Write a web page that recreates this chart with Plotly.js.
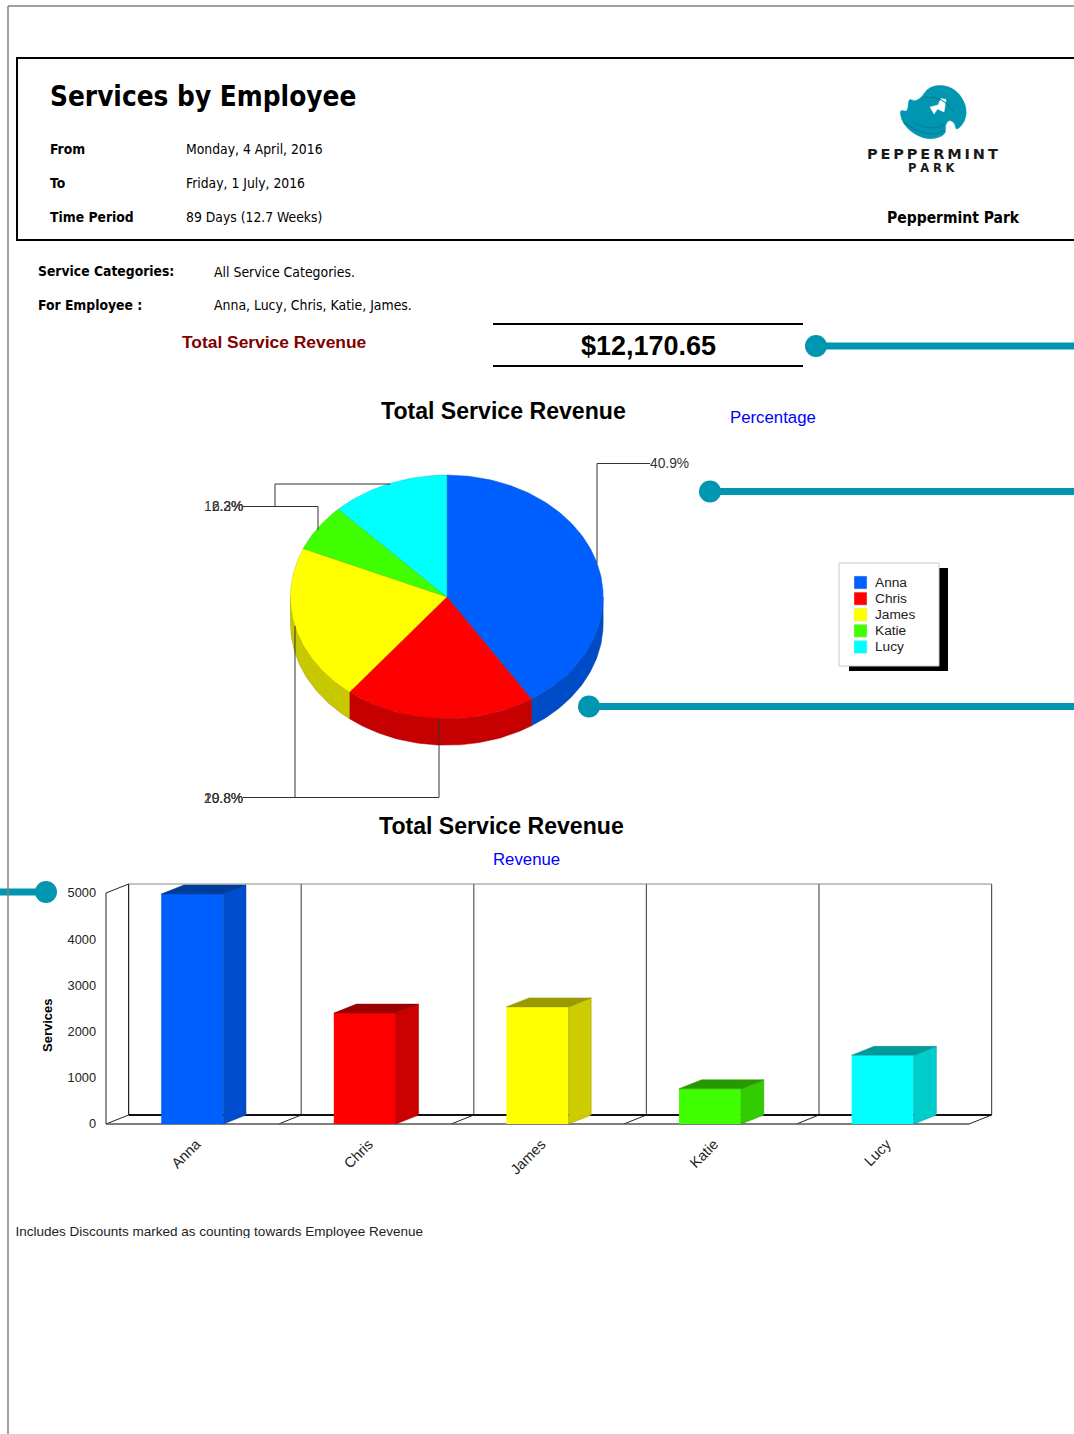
<!DOCTYPE html>
<html><head><meta charset="utf-8">
<script src="https://cdn.plot.ly/plotly-3.0.1.min.js"></script>
<style>html,body{margin:0;padding:0;background:#fff;overflow:hidden}#c{width:1074px;height:1434px}</style>
</head><body><div id="c"></div>
<script>
// ---- data ----
const employees = ['Anna','Chris','James','Katie','Lucy'];
const revenue   = [4978, 2400, 2535, 762, 1487];
const sharePct  = [40.9, 19.8, 20.8, 6.3, 12.2];
const yTicks    = [0,1000,2000,3000,4000,5000];
const faceColors = ['#0060ff','#ff0000','#ffff00','#40ff00','#00ffff'];
const sideColors = ['#004ccc','#cc0000','#cccc00','#33cc00','#00cccc'];
const topColors  = ['#003c99','#990000','#999900','#269900','#009999'];
const pieSideColors = ['#004cc8','#c60000','#c8c800','#33cc00','#00cccc'];
const headerRows = [['From','Monday, 4 April, 2016'],['To','Friday, 1 July, 2016'],['Time Period','89 Days (12.7 Weeks)']];
const filterRows = [['Service Categories:','All Service Categories.'],['For Employee :','Anna, Lucy, Chris, Katie, James.']];

const W=1074,H=1434, TEAL='#0095b0';
const domX=(a,b)=>[a/W,b/W], domY=(t,b)=>[1-b/H,1-t/H];
const SANS='"Liberation Sans", Arial, sans-serif', TAH='"DejaVu Sans Condensed","Noto Sans",sans-serif';
const traces=[], shapes=[], annotations=[];

// ---- text helper in page pixels ----
function txt(t,x,y,size,opt={}){const a=opt.anchor||'left';
  annotations.push({text:t,x:a==='left'?x-1.5:a==='right'?x+1.5:x,y:y,xref:'x',yref:'y',showarrow:false,
  xanchor:a,yanchor:'middle',borderpad:0,
  font:{family:opt.family||SANS,size:size,color:opt.color||'#000',weight:opt.bold?700:400}});}
function line(x0,y0,x1,y1,color,w,layer){shapes.push({type:'line',xref:'x',yref:'y',x0,y0,x1,y1,layer:layer||'below',line:{color,width:w}});}
function path(d,color,fill,w,layer){shapes.push({type:'path',xref:'x',yref:'y',path:d,layer:layer||'above',fillcolor:fill||'rgba(0,0,0,0)',line:{color:color,width:w}});}
function smooth(p){const m=(a,b)=>[(a[0]+b[0])/2,(a[1]+b[1])/2];let s=m(p[p.length-1],p[0]),d=`M ${s[0]} ${s[1]}`;
  p.forEach((q,i)=>{const e=m(q,p[(i+1)%p.length]);d+=` Q ${q[0]} ${q[1]} ${e[0]} ${e[1]}`;});return d+' Z';}

// page frame and header
shapes.push({type:'line',xref:'paper',yref:'paper',x0:8/W,x1:8/W,y0:0,y1:1-6/H,line:{color:'#808080',width:1.5}});
shapes.push({type:'line',xref:'paper',yref:'paper',x0:8/W,x1:1,y0:1-6/H,y1:1-6/H,line:{color:'#808080',width:1.5}});
path('M 1080 58 L 17 58 L 17 240 L 1080 240','#000',null,2,'below');
txt('Services by Employee',50,96,27.7,{family:TAH,bold:true});
headerRows.forEach((r,i)=>{const y=149+34*i;txt(r[0],50,y,13.8,{family:TAH,bold:true});txt(r[1],186,y,13.8,{family:TAH});});
txt('Peppermint Park',887,217.5,15.5,{family:TAH,bold:true});
filterRows.forEach((r,i)=>{const y=271+33.5*i;txt(r[0],38,y,13.8,{family:TAH,bold:true});txt(r[1],214,i?305:272,13.9,{family:TAH});});
txt('Total Service Revenue',182,342,17.4,{bold:true,color:'#800000'});
line(493,324,803,324,'#000',2); line(493,366,803,366,'#000',2);
txt('$12,170.65',648.5,346,27,{bold:true,anchor:'center'});
txt('Total Service Revenue',503.5,410.5,23.1,{bold:true,anchor:'center'});
txt('Percentage',730,417,16.8,{color:'#0000ff'});
txt('Total Service Revenue',501.5,826,23.1,{bold:true,anchor:'center'});
txt('Revenue',526.3,859.5,16.8,{color:'#0000ff',anchor:'center'});

// logo
path(smooth([[900,113],[901,110],[908,112],[908.5,98],[915,102],[923,96],[926,90],[935,85],[949,86],[960,94],[967,108],[965,122],[956,131],[955,123],[949,119.5],[945,125],[946,135],[930,140],[915,135],[903,124]]),TEAL,TEAL,0.5);
path('M 930 107 L 938 105 L 941 98.5 L 946 99.5 L 944 112 L 937.5 109 L 934 114 Z','#fff','#fff',0.5);
path('M 925 97 Q 945 96 953 112','#00788f',null,1);
path('M 904 122 Q 925 140 944 131','#00788f',null,1);
path('M 913 122 Q 930 132 944 125','#00788f',null,0.7);
txt('P\u2009E\u2009P\u2009P\u2009E\u2009R\u2009M\u2009I\u2009N\u2009T',932.5,153.5,14.5,{family:'"DejaVu Sans",sans-serif',bold:true,anchor:'center',color:'#1a1a1a'});
txt('P\u2004A\u2004R\u2004K',931.5,168,11.5,{family:'"DejaVu Sans",sans-serif',bold:true,anchor:'center',color:'#1a1a1a'});

// teal connectors
[[816,346],[710,491.5],[589,706.5]].forEach(c=>{
  shapes.push({type:'rect',xref:'x',yref:'y',x0:c[0],x1:1080,y0:c[1]-3.5,y1:c[1]+3.5,layer:'below',fillcolor:TEAL,line:{width:0}});
  shapes.push({type:'circle',xref:'x',yref:'y',x0:c[0]-11,x1:c[0]+11,y0:c[1]-11,y1:c[1]+11,layer:'above',fillcolor:TEAL,line:{width:0}});
});
shapes.push({type:'rect',xref:'x',yref:'y',x0:-5,x1:46,y0:888.5,y1:895.5,layer:'below',fillcolor:TEAL,line:{width:0}});
shapes.push({type:'circle',xref:'x',yref:'y',x0:35,x1:57,y0:881,y1:903,layer:'above',fillcolor:TEAL,line:{width:0}});

// ---- pie, on its own axes: unit circle squashed to an ellipse by the axis domain ----
const DEPTH=0.2194, TAU=Math.PI*2;
const pt=(a,dy)=>[Math.sin(a),Math.cos(a)-(dy||0)];
function arc(a0,a1,dy){const n=Math.max(2,Math.ceil((a1-a0)/0.02)),o=[];for(let k=0;k<=n;k++)o.push(pt(a0+(a1-a0)*k/n,dy));return o;}
let acc=0; const total=sharePct.reduce((s,v)=>s+v,0);
const spans=sharePct.map(v=>{const a=acc/total*TAU;acc+=v;return [a,acc/total*TAU];});
spans.forEach((s,i)=>{
  const a0=Math.max(s[0],Math.PI/2),a1=Math.min(s[1],Math.PI*1.5); if(a1<=a0)return;
  const pts=arc(a0,a1,0).concat(arc(a0,a1,DEPTH).reverse());pts.push(pts[0]);
  traces.push({type:'scatter',mode:'lines',xaxis:'x3',yaxis:'y3',x:pts.map(p=>p[0]),y:pts.map(p=>p[1]),fill:'toself',fillcolor:pieSideColors[i],
    line:{color:topColors[i],width:0.5},hoverinfo:'skip',showlegend:false});
});
spans.forEach((s,i)=>{
  const pts=[[0,0]].concat(arc(s[0],s[1],0));pts.push([0,0]);
  traces.push({type:'scatter',mode:'lines',xaxis:'x3',yaxis:'y3',name:employees[i],x:pts.map(p=>p[0]),y:pts.map(p=>p[1]),fill:'toself',fillcolor:faceColors[i],
    line:{color:sideColors[i],width:0.5},hoverinfo:'skip',showlegend:false});
});
// pie leader lines and labels
const LEAD='#333333';
path('M 597 563 L 597 463.5 L 650 463.5',LEAD,null,1);
path('M 390 484 L 275 484 L 275 506.5 L 243 506.5',LEAD,null,1);
path('M 318 530 L 318 506.5 L 243 506.5',LEAD,null,1);
path('M 295 626 L 295 797.5 L 243 797.5',LEAD,null,1);
path('M 439 718 L 439 797.5 L 243 797.5',LEAD,null,1);
const pieLabelPos=[[650,463.5,'left'],[242,798,'right'],[242,798,'right'],[242,506.5,'right'],[242,506.5,'right']];
sharePct.forEach((v,i)=>{const p=pieLabelPos[i];txt(v.toFixed(1)+'%',p[0],p[1],13.8,{anchor:p[2],color:'#333'});});

// legend
shapes.push({type:'rect',xref:'x',yref:'y',x0:849,x1:948,y0:568,y1:671,layer:'below',fillcolor:'#000',line:{width:0}});
shapes.push({type:'rect',xref:'x',yref:'y',x0:839,x1:939,y0:563,y1:666,layer:'below',fillcolor:'#fff',line:{color:'#c8c8c8',width:1}});
employees.forEach((n,i)=>{const y=582.5+16.1*i;
  shapes.push({type:'rect',xref:'x',yref:'y',x0:854,x1:867,y0:y-6.5,y1:y+6.5,layer:'above',fillcolor:faceColors[i],line:{color:'#dddddd',width:0.5}});
  txt(n,875,y,13.7,{color:'#222'});});

// ---- 3D-look bars ----
const BW=0.36, DX=22.6/172.6, DY=9/0.0462, idx=employees.map((_,i)=>i);
traces.push({type:'bar',xaxis:'x2',yaxis:'y2',x:idx,y:revenue,width:BW,marker:{color:faceColors,line:{width:0}},hoverinfo:'skip',showlegend:false,name:'Revenue'});
revenue.forEach((v,i)=>{const l=i-BW/2,r=i+BW/2;
  traces.push({type:'scatter',mode:'lines',xaxis:'x2',yaxis:'y2',x:[r,r+DX,r+DX,r,r],y:[0,DY,v+DY,v,0],fill:'toself',fillcolor:sideColors[i],line:{color:topColors[i],width:0.5},hoverinfo:'skip',showlegend:false});
  traces.push({type:'scatter',mode:'lines',xaxis:'x2',yaxis:'y2',x:[l,l+DX,r+DX,r,l],y:[v,v+DY,v+DY,v,v],fill:'toself',fillcolor:topColors[i],line:{color:topColors[i],width:0.5},hoverinfo:'skip',showlegend:false});
});
// wall and floor frame in bar axes
const X0=-0.5,XN=employees.length-0.5,TOP=5000+DY;
function bl(x0,y0,x1,y1,c,w){shapes.push({type:'line',xref:'x2',yref:'y2',x0,y0,x1,y1,layer:'below',line:{color:c,width:w}});}
for(let b=0;b<=employees.length;b++){const x=X0+b; bl(x,0,x+DX,DY,'#222',1); bl(x+DX,DY,x+DX,TOP,b?'#555':'#222',1.2);}
bl(X0+DX,TOP,XN+DX,TOP,'#888',1); bl(X0,0,XN,0,'#555',1.5); bl(X0+DX,DY,XN+DX,DY,'#111',1.8);
bl(X0,0,X0,5000,'#222',1); bl(X0,5000,X0+DX,TOP,'#222',1);
txt('Services',47,1025,13,{bold:true,anchor:'center'});
annotations[annotations.length-1].textangle=-90;

// footer clipped at the bottom of the page axes, as in the reference
traces.push({type:'scatter',mode:'text',xaxis:'x',yaxis:'y',x:[15.5],y:[1232.5],text:['Includes Discounts marked as counting towards Employee Revenue'],textposition:'middle right',
  textfont:{family:SANS,size:13.5,color:'#222'},cliponaxis:true,hoverinfo:'skip',showlegend:false});

const pad=3, CLIP=1238;
const layout={width:W,height:H,margin:{l:0,r:0,t:0,b:0},paper_bgcolor:'#fff',plot_bgcolor:'rgba(0,0,0,0)',showlegend:false,
  xaxis:{domain:[0,1],range:[0,W],visible:false,fixedrange:true},
  yaxis:{domain:domY(0,CLIP),range:[CLIP,0],visible:false,fixedrange:true},
  xaxis2:{anchor:'y2',domain:domX(106-pad,991.6+pad),range:[X0-pad/172.6,XN+DX+pad/172.6],tickmode:'array',tickvals:idx.map(i=>i+0.023),ticktext:employees,tickangle:-45,ticklabelstandoff:5,
    showgrid:false,zeroline:false,showline:false,ticks:'',tickfont:{family:SANS,size:14.5,color:'#222'},fixedrange:true},
  yaxis2:{anchor:'x2',domain:domY(884-pad,1124+pad),range:[-pad/0.0462,TOP+pad/0.0462],tickmode:'array',tickvals:yTicks,ticktext:yTicks.map(String),ticklabelstandoff:6,
    showgrid:false,zeroline:false,showline:false,ticks:'',tickfont:{family:SANS,size:12.8,color:'#222'},fixedrange:true},
  xaxis3:{anchor:'y3',domain:domX(446.8-1.05*156.3,446.8+1.05*156.3),range:[-1.05,1.05],visible:false,fixedrange:true},
  yaxis3:{anchor:'x3',domain:domY(596.8-1.05*121.7,596.8+1.3*121.7),range:[-1.3,1.05],visible:false,fixedrange:true},
  shapes,annotations};
Plotly.newPlot('c',traces,layout,{displayModeBar:false,staticPlot:true});
</script></body></html>
